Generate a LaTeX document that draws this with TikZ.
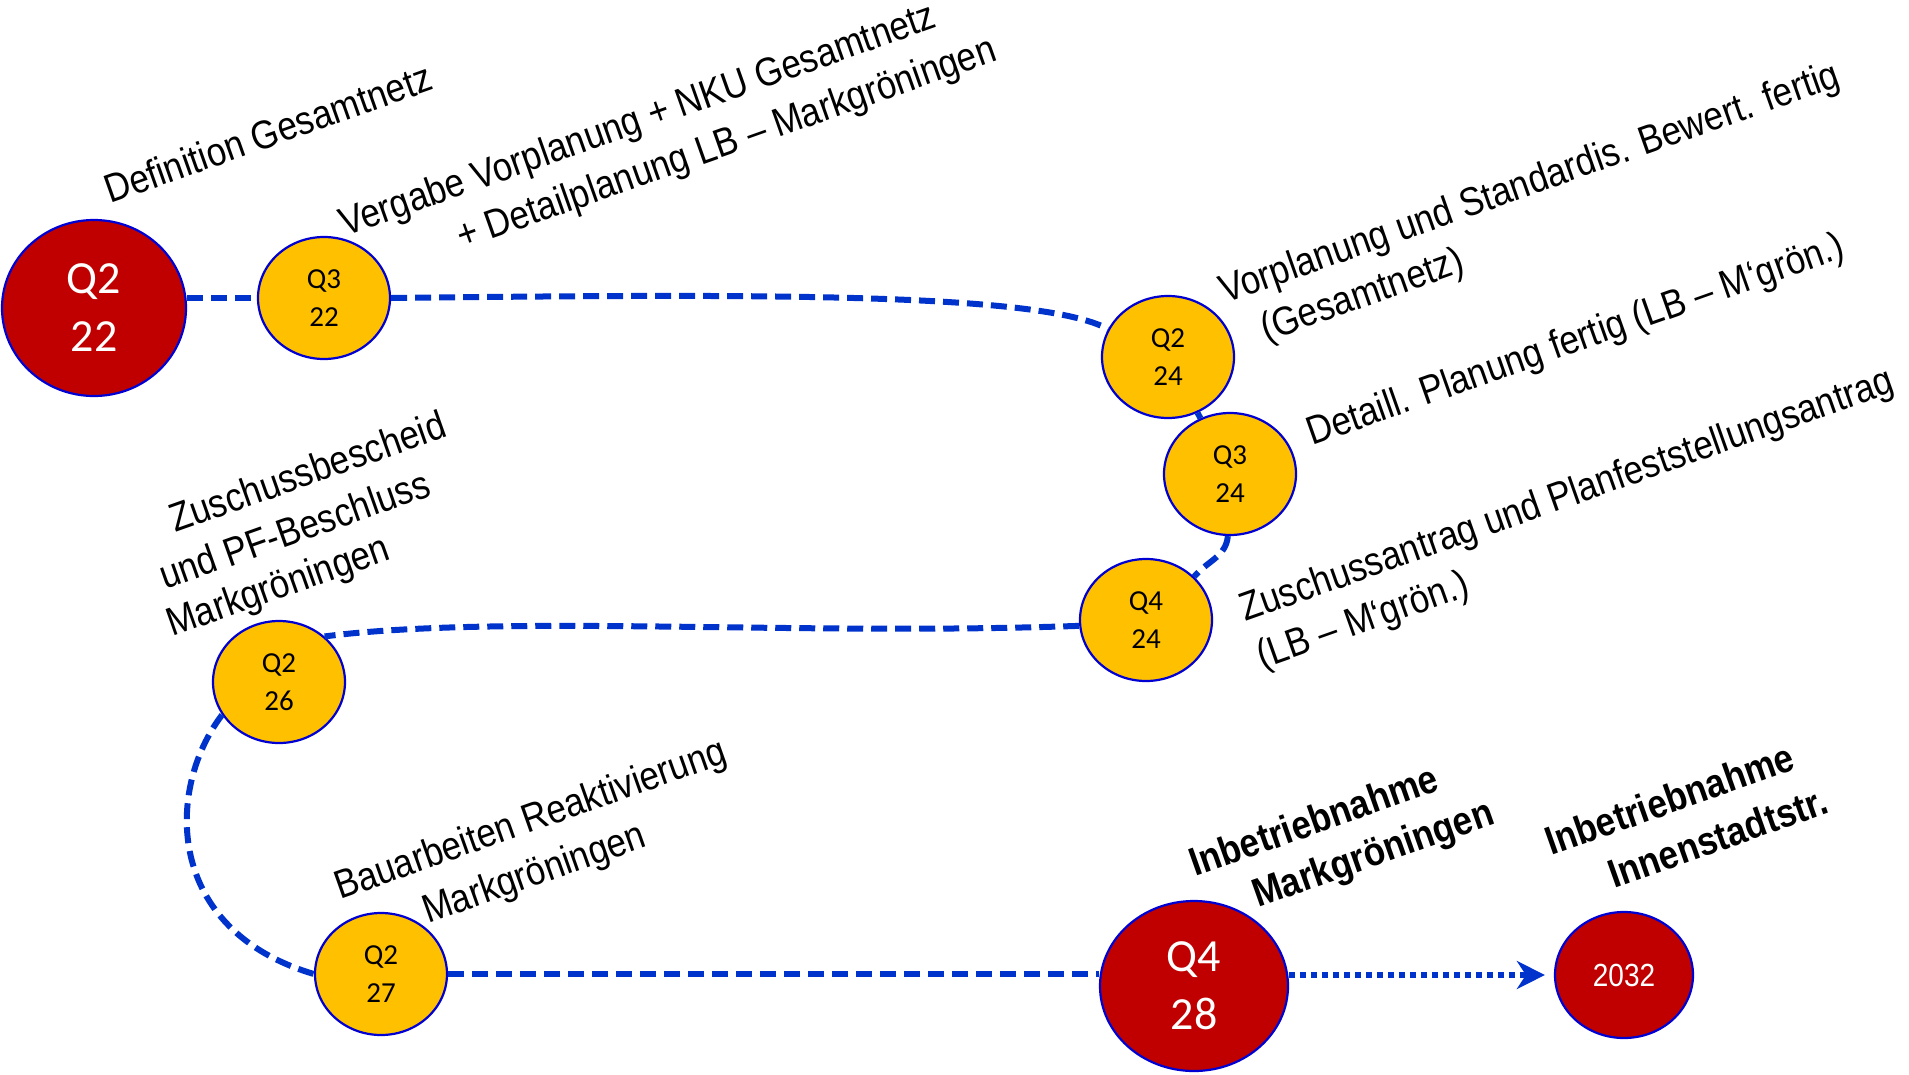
\documentclass[tikz,border=0pt]{standalone}
\usepackage{fontspec}
\setmainfont[FakeStretch=0.875]{Liberation Sans}
\newfontfamily\calibri{Carlito}
\usetikzlibrary{shapes.geometric,arrows.meta,calc}
\definecolor{ptred}{RGB}{192,0,0}
\definecolor{ptyel}{RGB}{255,192,0}
\definecolor{ptline}{RGB}{0,51,204}
\definecolor{ptedge}{RGB}{0,0,210}
\tikzset{
  milestone/.style={ellipse, draw=ptedge, line width=2.2pt, inner sep=0pt, align=center},
  bigred/.style={milestone, fill=ptred, text=white, minimum width=184pt, minimum height=176pt,
    font=\calibri\fontsize{46}{58}\selectfont},
  yel/.style={milestone, fill=ptyel, text=black, minimum width=132pt, minimum height=122pt,
    font=\calibri\fontsize{29}{38}\selectfont},
  smallred/.style={milestone, fill=ptred, text=white, minimum width=138pt, minimum height=126pt,
    font=\fontsize{32}{38}\selectfont},
  lbl/.style={rotate=19.5, anchor=base west, inner sep=0pt, font=\fontsize{40}{48}\selectfont},
  lblb/.style={lbl, font=\bfseries\fontsize{40}{48}\selectfont},
  conn/.style={draw=ptline, line width=6pt, dash pattern=on 16pt off 8pt},
  dotconn/.style={draw=ptline, line width=6pt, dash pattern=on 6pt off 5pt},
}
\begin{document}
\begin{tikzpicture}[x=1pt,y=-1pt]
\useasboundingbox (0,0) rectangle (1909,1074);
% milestones
\node[bigred] (A) at (94,308) {Q2\\22};
\node[yel] (B) at (324,298) {Q3\\22};
\node[yel] (C) at (1168,357) {Q2\\24};
\node[yel] (D) at (1230,474) {Q3\\24};
\node[yel] (E) at (1146,620) {Q4\\24};
\node[yel] (F) at (279,682) {Q2\\26};
\node[yel] (G) at (381,974) {Q2\\27};
\node[bigred, minimum width=188pt, minimum height=170pt] (H) at (1194,986) {Q4\\28};
\node[smallred] (I) at (1624,975) {2032};
% connectors
\draw[conn] (B.west -| A.east) -- (B.west);
\draw[conn] (B.east) .. controls (750,294) and (1040,292) .. (C.155);
\draw[conn] (C) -- (D);
\draw[conn] (D.268) to[out=-95,in=50] (E.42);
\draw[conn] (E.185) .. controls (800,636) and (500,614) .. (F.45);
\draw[conn] (F.210) .. controls (165,790) and (165,930) .. (G.west);
\draw[conn] (G.east) -- (G.east -| H.west);
\draw[dotconn, -{Stealth[length=28pt,width=28pt,inset=9pt]}, shorten >=9pt] (I.west -| H.east) -- (I.west);
% labels
\node[lbl] (L1) at (110,204) {Definition Gesamtnetz};
\node[lbl] (L2a) at (345,237) {Vergabe Vorplanung + NKU Gesamtnetz};
\node[lbl] (L2b) at (462,250) {+ Detailplanung LB – Markgröningen};
\node[lbl] (L3a) at (1225,304) {Vorplanung und Standardis. Bewert. fertig};
\node[lbl] (L3b) at (1266,342) {(Gesamtnetz)};
\node[lbl] (L4) at (1312,446) {Detaill. Planung fertig (LB – M‘grön.)};
\node[lbl] (L5a) at (1245,622) {Zuschussantrag und Planfeststellungsantrag};
\node[lbl] (L5b) at (1262,669) {(LB – M‘grön.)};
\node[lbl] (L6a) at (175,533) {Zuschussbescheid};
\node[lbl] (L6b) at (165,590) {und PF-Beschluss};
\node[lbl] (L6c) at (172,637) {Markgröningen};
\node[lbl] (L7a) at (340,900) {Bauarbeiten Reaktivierung};
\node[lbl] (L7b) at (428,924) {Markgröningen};
\node[lblb] (L8a) at (1195,877) {Inbetriebnahme};
\node[lblb] (L8b) at (1258,908) {Markgröningen};
\node[lblb] (L9a) at (1551,856) {Inbetriebnahme};
\node[lblb] (L9b) at (1614,889) {Innenstadtstr.};
\end{tikzpicture}
\end{document}
